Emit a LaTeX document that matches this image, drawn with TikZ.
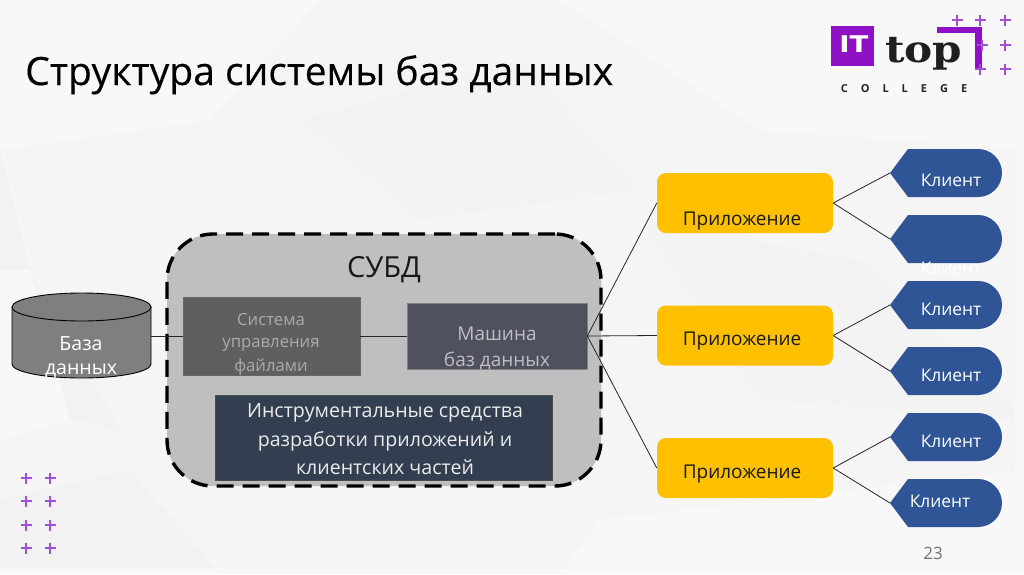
\documentclass[tikz,border=0pt]{standalone}
\usepackage{fontspec}
\setmainfont{Open Sans}
\newfontfamily\slabfont{DejaVu Serif}
\newfontfamily\blockfont{DejaVu Sans}
\usetikzlibrary{calc}
\definecolor{bgbase}{HTML}{F5F5F5}
\definecolor{bgA}{HTML}{F8F8F8}
\definecolor{bgB}{HTML}{F2F2F2}
\definecolor{bgC}{HTML}{F3F3F3}
\definecolor{cylfill}{HTML}{7F7F7F}
\definecolor{dbms}{HTML}{BFBFBF}
\definecolor{filefill}{HTML}{5F5F5F}
\definecolor{filetext}{HTML}{ABABAB}
\definecolor{machfill}{HTML}{4F515E}
\definecolor{machtext}{HTML}{BDBDC2}
\definecolor{toolfill}{HTML}{333F50}
\definecolor{appfill}{HTML}{FFC000}
\definecolor{clientfill}{HTML}{2F5597}
\definecolor{logopurple}{HTML}{8E12C4}
\definecolor{plusB}{HTML}{A24FD8}
\tikzset{
  x=1pt,y=-1pt,
  conn/.style={draw=black!85,line width=0.8pt},
  appbox/.style={fill=appfill,rounded corners=9pt,minimum width=176pt,minimum height=60pt,inner sep=0pt},
  appt/.style={text=black!90,font=\fontsize{19}{21}\selectfont,inner sep=0pt},
  clientt/.style={text=white,font=\fontsize{17.4}{19}\selectfont,inner sep=0pt},
  clientshape/.style={fill=clientfill},
  pluss/.style={draw=plusB,line width=2.6pt,line cap=butt},
  filet/.style={text=filetext,inner sep=0pt,font=\fontsize{16.7}{18}\selectfont},
  macht/.style={text=machtext,inner sep=0pt,font=\fontsize{19}{21}\selectfont},
  toolt/.style={text=white!92!black,inner sep=0pt,font=\fontsize{19.6}{22}\selectfont},
  dbt/.style={text=white,inner sep=0pt,font=\fontsize{19.5}{21}\selectfont},
}
\newcommand{\clientbox}[2]{%
  \fill[clientshape] (890,#2+24) -- (908,#2) -- (978,#2) arc[start angle=-90,end angle=90,radius=24] -- (908,#2+48) -- cycle;
  \coordinate (#1) at (890,#2+24);
}
\newcommand{\plusat}[3][5.5]{%
  \draw[pluss] (#2-#1,#3) -- (#2+#1,#3) (#2,#3-#1) -- (#2,#3+#1);
}
\begin{document}
\begin{tikzpicture}
\useasboundingbox (0,0) rectangle (1024,574);
% background
\fill[bgbase] (0,0) rectangle (1024,574);
\fill[bgA] (0,0) -- (320,0) -- (210,120) -- (0,150) -- cycle;
\fill[bgA] (560,0) -- (1024,0) -- (1024,150) -- (760,130) -- cycle;
\fill[bgB] (0,150) -- (30,270) -- (120,430) -- (0,400) -- cycle;
\fill[bgA] (0,270) -- (30,270) -- (70,420) -- (0,440) -- cycle;
\fill[bgC] (300,120) -- (520,60) -- (640,190) -- (420,220) -- cycle;
\fill[bgC] (640,220) -- (860,260) -- (1024,420) -- (760,400) -- cycle;
\fill[bgA] (600,520) -- (1024,470) -- (1024,574) -- (560,574) -- cycle;
\fill[bgB] (0,500) -- (130,470) -- (220,574) -- (0,574) -- cycle;
\fill[bgA] (1015,0) rectangle (1024,574);
\fill[bgA] (0,569) rectangle (1024,574);
% title
\node[anchor=base west,inner sep=0pt,font=\fontsize{39}{42}\selectfont,text=black] (title) at (25,85) {\addfontfeature{FakeBold=0.25}Структура системы баз данных};
% logo
\fill[logopurple] (831,26) rectangle (874,66);
\node[text=white,inner sep=0pt,xscale=1.2,font=\blockfont\bfseries\fontsize{23}{24}\selectfont] (logoit) at (854,44) {IT};
\node[anchor=base west,inner sep=0pt,text=black!88,xscale=1.14,font=\slabfont\bfseries\fontsize{37}{38}\selectfont] (logotop) at (885,62) {top};
\node[anchor=center,inner sep=0pt,text=black!85,font=\bfseries\fontsize{11}{12}\selectfont] (logocollege) at (904,89) {C\hspace{13pt}O\hspace{13pt}L\hspace{13pt}L\hspace{13pt}E\hspace{13pt}G\hspace{13pt}E};
\fill[logopurple] (937,27) rectangle (982,33);
\fill[logopurple] (975,27) rectangle (982,69);
\plusat{957}{20}\plusat{980}{20}\plusat{1005}{20}
\plusat{982}{45}\plusat{1005}{45}
\plusat{980}{69}\plusat{1005}{69}
% left plusses
\plusat{26}{478}\plusat{50}{478}
\plusat{26}{501}\plusat{50}{501}
\plusat{26}{525}\plusat{50}{525}
\plusat{26}{548}\plusat{50}{548}
% DBMS container
\node[draw=black,fill=dbms,line width=3.4pt,dash pattern=on 17pt off 9pt,rounded corners=46pt,minimum width=434pt,minimum height=252pt,inner sep=0pt] (dbmsbox) at (384,360) {};
\node[inner sep=0pt,font=\fontsize{29}{32}\selectfont,text=black!90] (dbmslabel) at (384,270) {СУБД};
% cylinder
\coordinate (dbright) at (151,336);
\fill[cylfill,draw=black,line width=0.9pt] (12,307) -- (12,364) arc[start angle=180,end angle=0,x radius=69.5,y radius=14] -- (151,307) -- cycle;
\draw[fill=cylfill,draw=black,line width=0.9pt] (81.5,307) ellipse[x radius=69.5,y radius=14];
\node[dbt] (dbt1) at (81,344) {База};
\node[dbt] (dbt2) at (81,371) {данных};
% inner boxes
\node[fill=filefill,draw=black!60,line width=0.6pt,minimum width=177pt,minimum height=78pt,inner sep=0pt] (filebox) at (271.5,336) {};
\node[fill=machfill,draw=black!50,line width=0.6pt,minimum width=180pt,minimum height=66pt,inner sep=0pt] (machine) at (497,336) {};
\node[fill=toolfill,draw=black!70,line width=0.6pt,minimum width=337pt,minimum height=85pt,inner sep=0pt] (tools) at (383.5,437.5) {};
\node[filet] (ft1) at (271,320) {Система};
\node[filet] (ft2) at (271,345) {управления};
\node[filet] (ft3) at (271,367) {файлами};
\node[macht] (mt1) at (497,334) {Машина};
\node[macht] (mt2) at (497,361) {баз данных};
\node[toolt] (tt1) at (385,413) {Инструментальные средства};
\node[toolt] (tt2) at (385,441) {разработки приложений и};
\node[toolt] (tt3) at (385,467) {клиентских частей};
% apps
\node[appbox] (app1) at (745,203) {};
\node[appbox] (app2) at (745,335.5) {};
\node[appbox] (app3) at (745,468) {};
\node[appt] (a1) at (742,220.5) {Приложение};
\node[appt] (a2) at (742,341) {Приложение};
\node[appt] (a3) at (742,474) {Приложение};
% clients
\clientbox{c1}{149}
\clientbox{c2}{215}
\clientbox{c3}{281}
\clientbox{c4}{347}
\clientbox{c5}{413}
\clientbox{c6}{479}
\node[clientt] (ct1) at (951,180) {Клиент};
\node[clientt] (ct2) at (951,268) {Клиент};
\node[clientt] (ct3) at (951,309) {Клиент};
\node[clientt] (ct4) at (951,375) {Клиент};
\node[clientt] (ct5) at (951,441) {Клиент};
\node[clientt] (ct6) at (940,501) {Клиент};
% connectors
\draw[conn] (dbright) -- (filebox.west);
\draw[conn] (filebox.east) -- (machine.west);
\draw[conn] (machine.east) -- (app1.west);
\draw[conn] (machine.east) -- (app2.west);
\draw[conn] (machine.east) -- (app3.west);
\foreach \a/\b in {app1/c1,app1/c2,app2/c3,app2/c4,app3/c5,app3/c6}{\draw[conn] (\a.east) -- (\b);}
% page number
\node[inner sep=0pt,text=black!55,font=\fontsize{17}{20}\selectfont] (pagenum) at (933,553) {23};
\end{tikzpicture}
\end{document}
